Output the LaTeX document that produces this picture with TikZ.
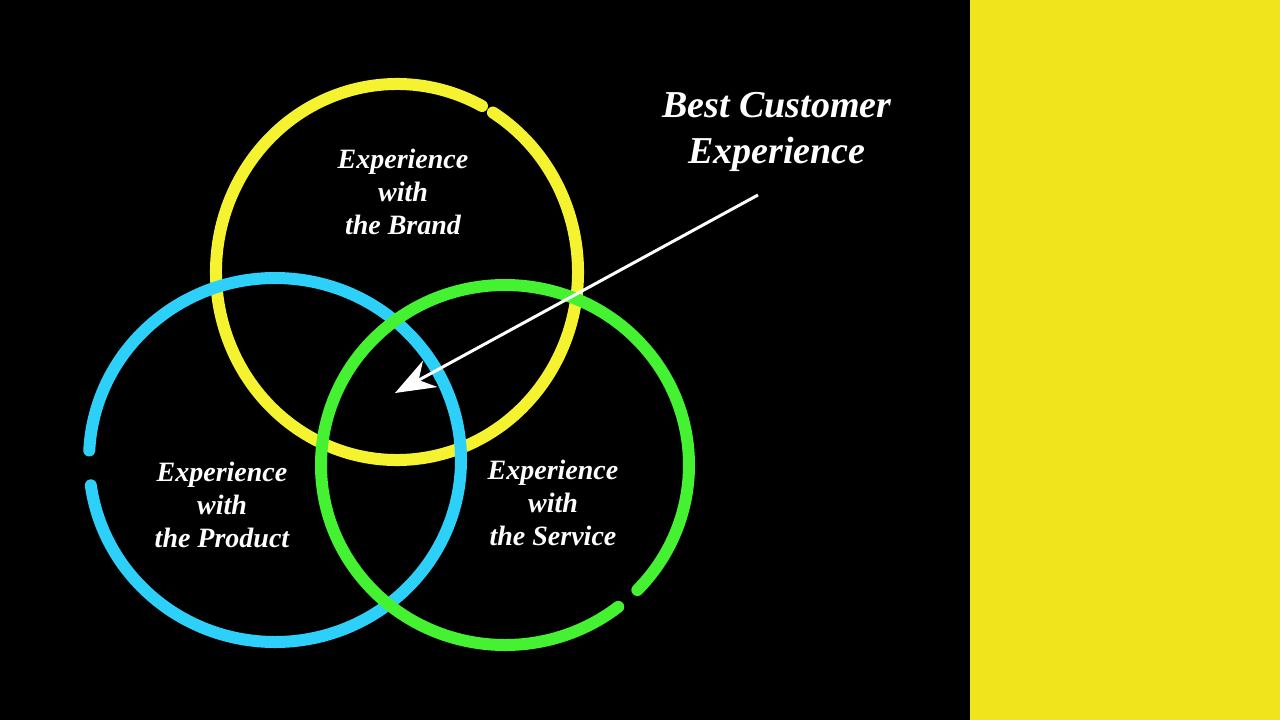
\documentclass[tikz,border=0pt]{standalone}
\usepackage{fontspec}
\setmainfont{Liberation Serif}
\usetikzlibrary{arrows.meta}
\begin{document}
\begin{tikzpicture}[x=1pt,y=-1pt,
  ring/.style={line width=12pt,line cap=round},
  lbl/.style={text=white,align=center,font=\itshape\bfseries\fontsize{28}{33}\selectfont}]
\definecolor{ylw}{HTML}{F5F230}
\definecolor{bar}{HTML}{F0E41C}
\definecolor{blu}{HTML}{2CD0F8}
\definecolor{grn}{HTML}{44F232}
\useasboundingbox (0,0) rectangle (1280,720);
\fill[black] (0,0) rectangle (970,720);
\fill[bar] (970,0) rectangle (1280,720);
\draw[ring,ylw] (397,272)+(302:181 and 188) arc[start angle=302,end angle=658,x radius=181,y radius=188];
\draw[ring,blu] (275,460)+(183:186 and 182) arc[start angle=183,end angle=532,x radius=186,y radius=182];
\draw[ring,grn] (505,465)+(52:184 and 180) arc[start angle=52,end angle=404,x radius=184,y radius=180];
\node[lbl] (brand) at (403,192) {Experience\\with\\the Brand};
\node[lbl] (prod) at (222,505) {Experience\\with\\the Product};
\node[lbl] (serv) at (553,503) {Experience\\with\\the Service};
\node[lbl,font=\itshape\bfseries\fontsize{38}{46}\selectfont] (best) at (777,132) {Best Customer\\Experience};
\coordinate (a0) at (758,195);
\coordinate (a1) at (395,393);
\draw[white,line width=3pt,-{Stealth[length=40pt,width=30pt]}] (a0) -- (a1);
\end{tikzpicture}
\end{document}
